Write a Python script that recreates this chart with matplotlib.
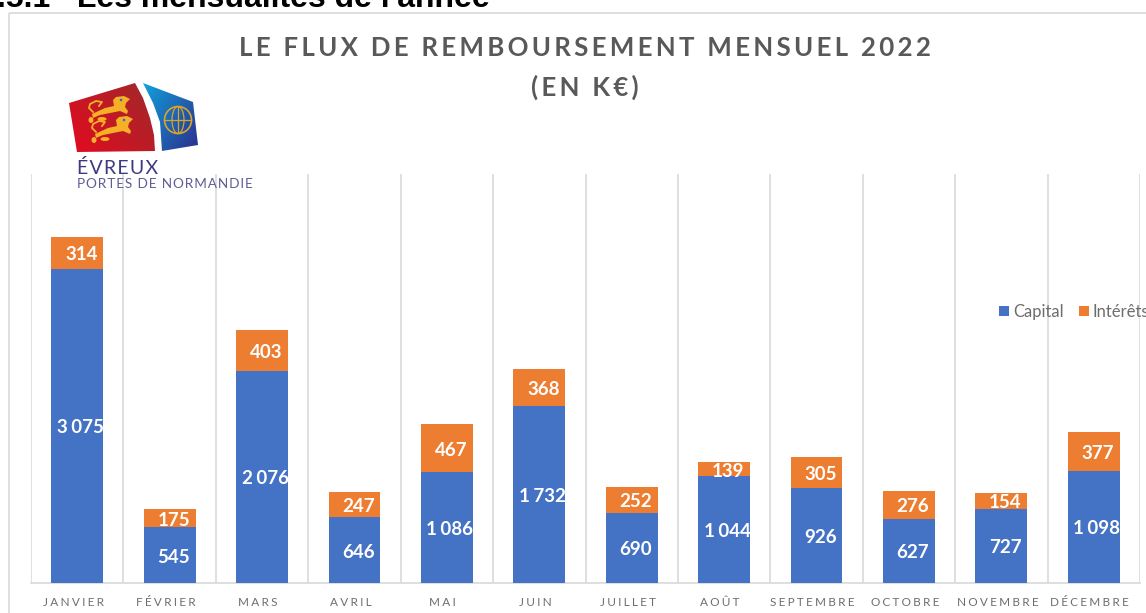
import numpy as np
import matplotlib
matplotlib.use('Agg')
import matplotlib.pyplot as plt
from matplotlib.patches import Polygon, Circle, Ellipse, Rectangle
from matplotlib.colors import LinearSegmentedColormap
from matplotlib.transforms import ScaledTranslation

# Data
months = ['JANVIER', 'FÉVRIER', 'MARS', 'AVRIL', 'MAI', 'JUIN', 'JUILLET',
          'AOÛT', 'SEPTEMBRE', 'OCTOBRE', 'NOVEMBRE', 'DÉCEMBRE']
capital = [3075, 545, 2076, 646, 1086, 1732, 690, 1044, 926, 627, 727, 1098]
interets = [314, 175, 403, 247, 467, 368, 252, 139, 305, 276, 154, 377]
title_lines = ['LE FLUX DE REMBOURSEMENT MENSUEL 2022', '(EN K€)']
heading = '.5.1   Les mensualités de l\'année'

# Plot settings
W, H = 1146, 613
blue = '#4472c4'
orange = '#ed7d31'
grid_color = '#d9d9d9'
label_color = '#6d6d6d'
title_color = '#595959'
font = ['Lato', 'DejaVu Sans']


def spaced(s, sep='\u200a', n=2):
    return (sep * n).join(s)


def fmt(v):
    return f'{v:,}'.replace(',', '\u2009\u200a')


def gradient(ax, poly, c0, c1, angle):
    cmap = LinearSegmentedColormap.from_list('g', [c0, c1])
    xs, ys = np.meshgrid(np.linspace(0, 1, 60), np.linspace(0, 1, 60))
    im = ax.imshow(xs * np.cos(angle) + ys * np.sin(angle), cmap=cmap, aspect='auto',
                   extent=[min(p[0] for p in poly), max(p[0] for p in poly),
                           max(p[1] for p in poly), min(p[1] for p in poly)], zorder=2)
    patch = Polygon(poly, closed=True, transform=ax.transData, fc='none', ec='none')
    ax.add_patch(patch)
    im.set_clip_path(patch)


def draw_lion(ax, dx, dy):
    col = '#f6b026'
    body = np.array([(92, 114), (105, 108), (114, 106), (113, 100), (116, 97), (124, 96), (130, 99),
                     (126, 103), (125, 107), (128, 111), (127, 114), (120, 111), (110, 113),
                     (100, 115), (93, 118)], dtype=float)
    ax.add_patch(Polygon(body + [dx, dy], fc=col, ec='none', zorder=3))
    ax.plot(np.array([93, 89, 90, 96, 102, 99]) + dx, np.array([112, 108, 104, 101, 102, 106]) + dy,
            color=col, lw=1.3, zorder=3)
    ax.add_patch(Ellipse((102 + dx, 119 + dy), 9, 4, fc=col, ec='none', zorder=3))
    ax.add_patch(Ellipse((91 + dx, 120 + dy), 5, 6, fc=col, ec='none', zorder=3))
    ax.add_patch(Circle((121 + dx, 100 + dy), 1.3, fc='#2f6fc0', ec='none', zorder=4))


fig = plt.figure(figsize=(W / 100, H / 100), dpi=100, facecolor='white')

ax = fig.add_axes([31 / W, 1 - 583 / H, 1109 / W, 409 / H])
x = np.arange(len(months))
ax.bar(x, capital, width=0.56, color=blue, label='Capital', zorder=3)
ax.bar(x, interets, width=0.56, bottom=capital, color=orange, label='Intérêts', zorder=3)

# labels sit a few pixels right of and below the segment centres
shift = ScaledTranslation(4 / 100, -2 / 100, fig.dpi_scale_trans)
shift_wide = ScaledTranslation(3 / 100, -2 / 100, fig.dpi_scale_trans)
for i in x:
    ax.text(i, capital[i] / 2, fmt(capital[i]), ha='center', va='center', color='white',
            fontsize=13.5, fontweight='bold', family=font, zorder=4,
            transform=ax.transData + (shift_wide if capital[i] >= 1000 else shift))
    ax.text(i, capital[i] + interets[i] / 2, fmt(interets[i]), ha='center', va='center',
            color='white', fontsize=13.5, fontweight='bold', family=font, zorder=4,
            transform=ax.transData + shift)

ax.set_xlim(-0.5, 11.5)
ax.set_ylim(0, 4005)
ax.set_yticks([])
ax.set_xticks(x)
ax.set_xticklabels([spaced(m, n=3) for m in months], family=font, fontsize=8.5, color=label_color)
ax.tick_params(axis='x', length=0, pad=10)
tick_shift = ScaledTranslation(-4 / 100, 0, fig.dpi_scale_trans)
for t in ax.get_xticklabels():
    t.set_transform(t.get_transform() + tick_shift)
ax.set_xticks(np.arange(-0.5, 12, 1), minor=True)
ax.tick_params(axis='x', which='minor', length=0)
ax.grid(axis='x', which='minor', color=grid_color, lw=1.2, zorder=0)
for s in ['top', 'right', 'left']:
    ax.spines[s].set_visible(False)
ax.spines['bottom'].set_color(grid_color)
ax.spines['bottom'].set_linewidth(1.2)

fig.legend(loc='center left', bbox_to_anchor=(984 / W, 1 - 312 / H), ncols=2, frameon=False,
           prop={'family': font, 'size': 12}, labelcolor=label_color, handlelength=0.6,
           handleheight=0.6, handletextpad=0.25, columnspacing=0.9)

# overlay in pixel coordinates: frame, heading, title, logo
ov = fig.add_axes([0, 0, 1, 1], zorder=5)
ov.set_xlim(0, W)
ov.set_ylim(H, 0)
ov.axis('off')
ov.patch.set_alpha(0)

ov.add_patch(Rectangle((9, 13), W + 20, H + 20, fc='none', ec='#d9d9d9', lw=1.2))
ov.text(-3, 7, heading, family='Liberation Sans', fontweight='bold', fontsize=23, color='black',
        ha='left', va='baseline')

ov.text(585, 48, spaced(title_lines[0], n=2), family=font, fontweight='bold', fontsize=18.6,
        color=title_color, ha='center', va='center')
ov.text(585, 87, spaced(title_lines[1], n=2), family=font, fontweight='bold', fontsize=18.6,
        color=title_color, ha='center', va='center')

red_poly = [(69, 103), (135, 83), (143, 98), (150, 118), (154, 135), (155, 151), (77, 152)]
blue_poly = [(143, 83), (193, 102), (198, 145), (162, 151), (160, 122), (153, 103)]
gradient(ov, red_poly, '#e30a20', '#9e2a2b', -0.6)
gradient(ov, blue_poly, '#12a0dc', '#2b2f8c', 0.7)
draw_lion(ov, 0, 0)
draw_lion(ov, 3, 20)
ov.add_patch(Circle((178, 120), 13.5, fc='none', ec='#d9a528', lw=1.2, zorder=3))
ov.add_patch(Ellipse((178, 120), 12, 27, fc='none', ec='#d9a528', lw=0.9, zorder=3))
ov.plot([165, 191], [120, 120], color='#d9a528', lw=0.9, zorder=3)
ov.plot([178, 178], [107, 133], color='#d9a528', lw=0.9, zorder=3)
ov.set_xlim(0, W)
ov.set_ylim(H, 0)

ov.text(77, 174, spaced('ÉVREUX', n=1), family=font, fontsize=14, color='#3c3a80', ha='left', va='baseline')
ov.text(77, 188, spaced('PORTES DE NORMANDIE', n=1), family=font, fontsize=9.8, color='#5f5c96',
        ha='left', va='baseline')

fig.savefig('out.png', dpi=100)
